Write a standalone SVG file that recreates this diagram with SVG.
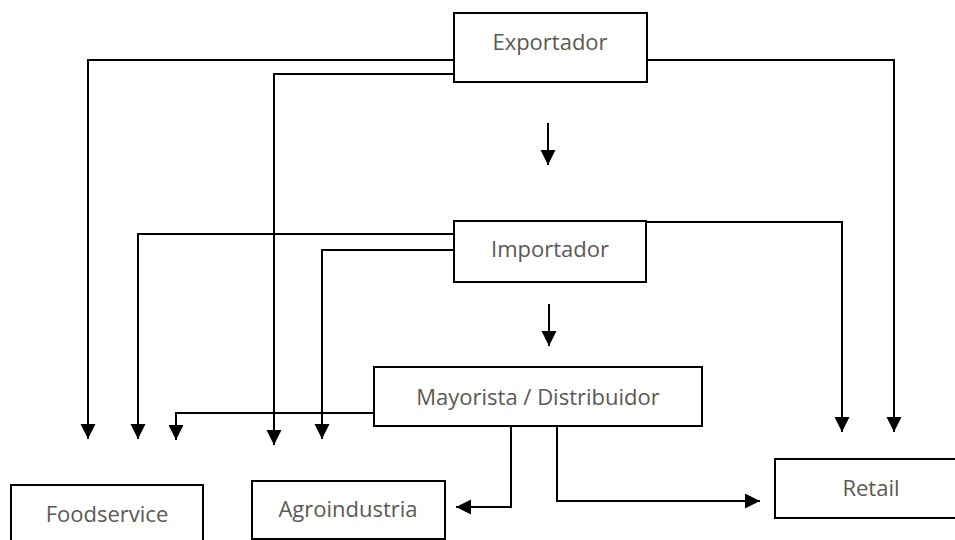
<svg xmlns="http://www.w3.org/2000/svg" width="955" height="540" viewBox="0 0 955 540">
<style>
.box{fill:#fff;stroke:#000;stroke-width:2}
.lbl{font-family:"Open Sans","Liberation Sans",sans-serif;font-size:22px;fill:#595959;text-anchor:middle}
.con{fill:none;stroke:#000;stroke-width:2;marker-end:url(#ah)}
</style>
<defs>
<marker id="ah" markerUnits="userSpaceOnUse" markerWidth="16" markerHeight="16" refX="15" refY="7.5" orient="auto" viewBox="0 0 16 16">
<path d="M0,0 L15,7.5 L0,15 z" fill="#000"/>
</marker>
</defs>
<rect width="955" height="540" fill="#fff"/>
<g id="connectors">
<path class="con" d="M454,60 H88 V439"/>
<path class="con" d="M454,74 H274 V445"/>
<path class="con" d="M647,60 H894 V432"/>
<path class="con" d="M548,123 V165"/>
<path class="con" d="M454,234 H138 V439"/>
<path class="con" d="M456,250 H322 V439"/>
<path class="con" d="M646,222 H842 V432"/>
<path class="con" d="M549,304 V346"/>
<path class="con" d="M374,413 H176 V440"/>
<path class="con" d="M511,426 V507 H456"/>
<path class="con" d="M557,426 V501 H760"/>
</g>
<g id="exportador">
<rect class="box" x="454" y="13" width="193" height="69"/>
<text class="lbl" x="550" y="50">Exportador</text>
</g>
<g id="importador">
<rect class="box" x="454" y="221" width="192" height="61"/>
<text class="lbl" x="550" y="257">Importador</text>
</g>
<g id="mayorista">
<rect class="box" x="374" y="367" width="328" height="59"/>
<text class="lbl" x="538" y="405">Mayorista / Distribuidor</text>
</g>
<g id="foodservice">
<rect class="box" x="11" y="485" width="192" height="70"/>
<text class="lbl" x="107" y="522">Foodservice</text>
</g>
<g id="agroindustria">
<rect class="box" x="252" y="481" width="193" height="58"/>
<text class="lbl" x="348" y="517">Agroindustria</text>
</g>
<g id="retail">
<rect class="box" x="775" y="459" width="190" height="59"/>
<text class="lbl" x="871" y="496">Retail</text>
</g>
</svg>
